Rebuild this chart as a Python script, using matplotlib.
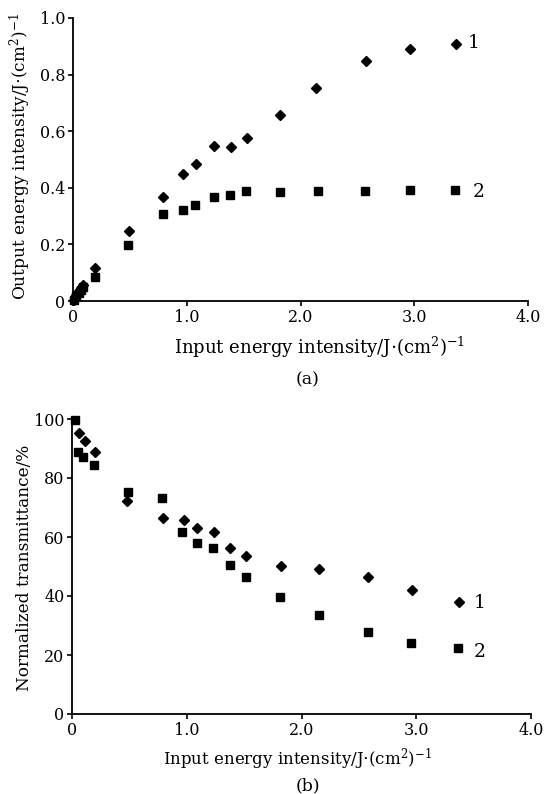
import numpy as np
import matplotlib
matplotlib.use("Agg")
import matplotlib.pyplot as plt

plt.rcParams['font.family'] = ['DejaVu Serif']
plt.rcParams['mathtext.fontset'] = 'dejavuserif'

# (a) output vs input energy
a_x1 = [0.01, 0.03, 0.05, 0.07, 0.09, 0.19, 0.49, 0.79, 0.97, 1.08, 1.24, 1.39, 1.53, 1.82, 2.14, 2.58, 2.96, 3.37]
a_y1 = [0.005, 0.02, 0.035, 0.045, 0.057, 0.118, 0.247, 0.367, 0.448, 0.483, 0.548, 0.544, 0.576, 0.657, 0.753, 0.848, 0.890, 0.908]
a_x2 = [0.01, 0.03, 0.05, 0.07, 0.09, 0.19, 0.485, 0.79, 0.97, 1.07, 1.24, 1.38, 1.52, 1.82, 2.15, 2.57, 2.96, 3.36]
a_y2 = [0.005, 0.018, 0.03, 0.04, 0.05, 0.085, 0.197, 0.308, 0.322, 0.339, 0.366, 0.373, 0.387, 0.386, 0.390, 0.389, 0.392, 0.392]

# (b) normalized transmittance
b_x1 = [0.06, 0.11, 0.20, 0.48, 0.79, 0.98, 1.09, 1.24, 1.38, 1.52, 1.82, 2.15, 2.58, 2.96, 3.37]
b_y1 = [95.3, 92.4, 88.7, 72.2, 66.5, 65.6, 63.1, 61.7, 56.4, 53.6, 50.2, 49.2, 46.3, 42.1, 38.1]
b_x2 = [0.03, 0.05, 0.10, 0.19, 0.49, 0.78, 0.96, 1.09, 1.23, 1.38, 1.52, 1.81, 2.15, 2.58, 2.95, 3.36]
b_y2 = [99.5, 88.9, 87.2, 84.5, 75.4, 73.3, 61.6, 58.0, 56.4, 50.6, 46.5, 39.8, 33.6, 27.7, 24.1, 22.4]

xticks = [0, 1, 2, 3, 4]
xticklabels = ['0', '1.0', '2.0', '3.0', '4.0']
a_yticks = [0, 0.2, 0.4, 0.6, 0.8, 1.0]
a_yticklabels = ['0', '0.2', '0.4', '0.6', '0.8', '1.0']
b_yticks = [0, 20, 40, 60, 80, 100]

W, H = 544, 794
fig = plt.figure(figsize=(W / 100, H / 100), dpi=100)

ax1 = fig.add_axes([73 / W, 1 - 301 / H, 455 / W, 283 / H])
ax2 = fig.add_axes([72 / W, 1 - 714 / H, 459 / W, 295 / H])

for ax in (ax1, ax2):
    ax.spines['top'].set_visible(False)
    ax.spines['right'].set_visible(False)
    for s in ('left', 'bottom'):
        ax.spines[s].set_linewidth(1.3)
    ax.tick_params(direction='out', length=3.5, width=1.2, labelsize=11.5, pad=2)
    ax.set_xlim(0, 4)
    ax.set_xticks(xticks, xticklabels)

ax1.plot(a_x1, a_y1, 'kD', ms=4.8, clip_on=False)
ax1.plot(a_x2, a_y2, 'ks', ms=5.3, clip_on=False)
ax1.set_ylim(0, 1.0)
ax1.set_yticks(a_yticks, a_yticklabels)
ax1.text(3.47, 0.91, '1', fontsize=13.5, va='center', ha='left')
ax1.text(3.51, 0.385, '2', fontsize=13.5, va='center', ha='left')
ax1.set_xlabel('Input energy intensity/J$\\cdot$(cm$^2$)$^{-1}$', fontsize=13)
ax1.xaxis.set_label_coords(0.543, -0.12)
ax1.set_ylabel('Output energy intensity/J$\\cdot$(cm$^2$)$^{-1}$', fontsize=12.2)
ax1.yaxis.set_label_coords(-0.088, 0.509)

ax2.plot(b_x1, b_y1, 'kD', ms=4.8, clip_on=False)
ax2.plot(b_x2, b_y2, 'ks', ms=5.3, clip_on=False)
ax2.set_ylim(0, 100)
ax2.set_yticks(b_yticks)
ax2.text(3.5, 37.5, '1', fontsize=13.5, va='center', ha='left')
ax2.text(3.5, 21.0, '2', fontsize=13.5, va='center', ha='left')
ax2.set_xlabel('Input energy intensity/J$\\cdot$(cm$^2$)$^{-1}$', fontsize=12)
ax2.xaxis.set_label_coords(0.492, -0.11)
ax2.set_ylabel('Normalized transmittance/%', fontsize=12.2)
ax2.yaxis.set_label_coords(-0.085, 0.494)

fig.text(308 / W, 1 - 380 / H, '(a)', fontsize=12.5, ha='center', va='center')
fig.text(308 / W, 1 - 786 / H, '(b)', fontsize=12.5, ha='center', va='center')

fig.savefig('out.png', dpi=100)
